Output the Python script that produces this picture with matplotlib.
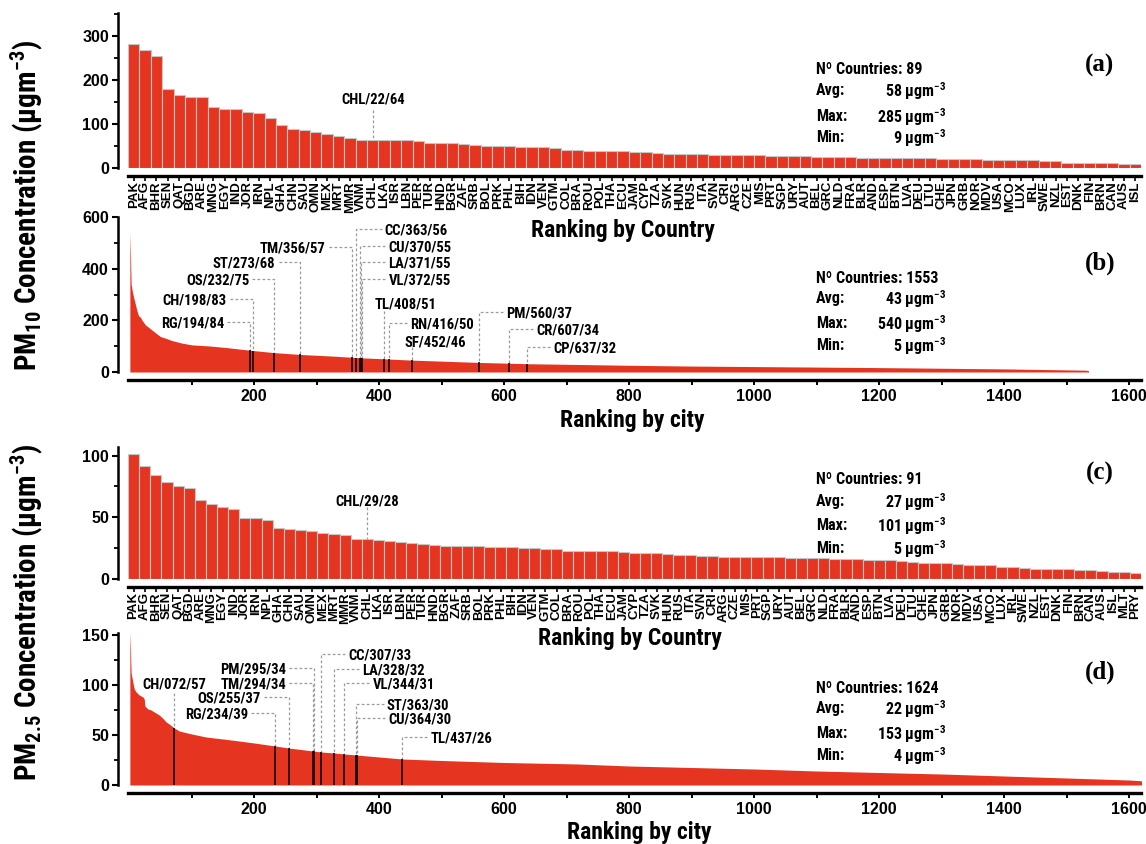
import numpy as np
import matplotlib
matplotlib.use('Agg')
import matplotlib.pyplot as plt
from matplotlib import font_manager as fm

# ---------------- data ----------------
pm10_codes = ['PAK','AFG','BHR','SEN','QAT','BGD','ARE','MNG','EGY','IND','JOR','IRN','NPL','GHA','CHN',
              'SAU','OMN','MEX','MRT','MMR','VNM','CHL','LKA','ISR','LBN','PER','TUR','HND','BGR','ZAF',
              'SRB','BOL','PRK','PHL','BIH','IDN','VEN','GTM','COL','BRA','ROU','POL','THA','ECU','JAM',
              'CYP','TZA','SVK','HUN','RUS','ITA','SVN','CRI','ARG','CZE','MIS','PRT','SGP','URY','AUT',
              'BEL','GRC','NLD','FRA','BLR','AND','ESP','BTN','LVA','DEU','LTU','CHE','JPN','GRB','NOR',
              'MDV','USA','MCO','LUX','IRL','SWE','NZL','EST','DNK','FIN','BRN','CAN','AUS','ISL']
pm10_country = [282, 268, 254, 179, 165, 162, 161, 138, 135, 133, 127, 126, 113, 97, 89,
                86, 82, 78, 72, 68, 64, 64, 63, 63, 63, 61, 57, 57, 57, 54,
                52, 51, 51, 50, 48, 48, 48, 45, 42, 41, 38.5, 38.5, 38.5, 38, 36,
                35.5, 34, 32.5, 32.5, 31.7, 31.7, 30.2, 29.5, 29.5, 29.5, 29.5, 27.2, 27.2, 27.2, 27.2,
                25.7, 24.9, 24.9, 24.9, 23.4, 23.4, 23.4, 22.7, 21.9, 21.9, 21.9, 20.4, 20.4, 20.4, 19.6,
                18.9, 18.9, 18.9, 17.4, 17.4, 15.9, 15.1, 12.1, 12.1, 12.1, 11.3, 11.3, 9, 9]

pm25_codes = pm10_codes + ['MLT', 'PRY']
pm25_country = [101, 92, 84, 79, 75, 74, 64, 60.5, 58.5, 56.8, 49.5, 49.2, 48, 41, 40.8,
                39.7, 38.6, 37.6, 36.2, 35.4, 32.4, 32.4, 31.9, 30.5, 29.7, 29.5, 28.1, 27.8, 27, 27,
                26.5, 26.5, 26, 26, 26, 25.1, 24.9, 24, 24, 23, 22.7, 22.7, 22.7, 22.7, 21.7,
                21.4, 20.8, 20.8, 20, 19.5, 19.2, 18.9, 18.4, 18.1, 18.1, 18.1, 17.8, 17.8, 17.6, 17,
                17, 16.8, 16.8, 16.5, 16.5, 16.2, 15.4, 15.4, 15.1, 14.6, 14.1, 13.2, 13, 12.7, 11.9,
                11.6, 11.6, 11.1, 10, 9.7, 8.6, 8.4, 8.4, 8.4, 8.1, 7.3, 7.3, 6.8, 5.7, 5.4, 4.6]

# city rankings
pm10_city_rank = [1, 2, 3, 5, 7, 10, 12, 15, 18, 20, 26, 31, 36, 44, 50, 58, 68, 84, 100, 127, 154,
                  194, 198, 232, 273, 330, 356, 363, 370, 408, 416, 452, 500, 560, 607, 637, 722,
                  800, 900, 1000, 1100, 1200, 1300, 1400, 1480, 1531, 1535]
pm10_city_val = [540, 450, 340, 311, 289, 260, 240, 217, 212, 202, 182, 173, 163, 148, 137, 131, 122,
                 112, 105, 101, 95, 84, 83, 75, 68, 61, 57, 56, 55, 51, 50, 46, 42, 37, 34, 32, 29,
                 26, 23, 21, 19, 17, 14.5, 12, 9, 7, 5]

pm25_city_rank = [1, 2, 3, 6, 8, 11, 16, 22, 24, 25, 30, 35, 40, 48, 54, 59, 64, 72, 80, 100, 123,
                  150, 176, 200, 234, 255, 294, 307, 328, 344, 363, 437, 500, 600, 719, 800, 900,
                  1000, 1100, 1200, 1300, 1400, 1500, 1600, 1624]
pm25_city_val = [153, 135, 112, 102, 96, 93, 90, 88, 86, 79, 76, 75, 73, 70, 66.5, 63, 61, 57, 54,
                 51, 48, 46, 44, 42, 39, 37, 34, 33, 32, 31, 30, 26, 24.5, 22.5, 21, 19, 17.5,
                 16, 14, 12.5, 11, 9, 7, 5, 4]

pm10_cities = ['RG', 'CH', 'OS', 'ST', 'TM', 'CC', 'CU', 'LA', 'VL', 'TL', 'RN', 'SF', 'PM', 'CR', 'CP']
pm10_cities_rank = [194, 198, 232, 273, 356, 363, 370, 371, 372, 408, 416, 452, 560, 607, 637]
pm10_cities_val = [84, 83, 75, 68, 57, 56, 55, 55, 55, 51, 50, 46, 37, 34, 32]

pm25_cities = ['CH', 'RG', 'OS', 'TM', 'PM', 'CC', 'LA', 'VL', 'ST', 'CU', 'TL']
pm25_cities_rank = [72, 234, 255, 294, 295, 307, 328, 344, 363, 364, 437]
pm25_cities_val = [57, 39, 37, 34, 34, 33, 32, 31, 30, 30, 26]

# stats: count, avg, max, min
stats_a = [89, 58, 285, 9]
stats_b = [1553, 43, 540, 5]
stats_c = [91, 27, 101, 5]
stats_d = [1624, 22, 153, 4]


# ---------------- font choice (condensed bold if available) ----------------
def _w(e):
    w = e.weight
    if isinstance(w, str):
        w = fm.weight_dict.get(w, 400)
    return w


def pick_narrow():
    entries = fm.fontManager.ttflist
    for nm in ['Liberation Sans Narrow', 'Roboto Condensed', 'Open Sans Condensed',
               'Noto Sans Condensed', 'DejaVu Sans Condensed']:
        es = [e for e in entries if e.name == nm]
        if es:
            b = [e for e in es if _w(e) >= 600] or es
            return nm, b[0].stretch
    cond = ('condensed', 'semi-condensed', 'extra-condensed', 'ultra-condensed')
    for nm in ['Roboto', 'Noto Sans', 'DejaVu Sans', 'Open Sans', 'Lato', 'Inter', 'Liberation Sans']:
        es = [e for e in entries if e.name == nm and e.stretch in cond]
        if es:
            b = [e for e in es if _w(e) >= 600] or es
            return nm, b[0].stretch
    return 'Liberation Sans', 'normal'


NARROW_NAME, NARROW_STRETCH = pick_narrow()

# ---------------- styling ----------------
W, H = 1146, 844
RED = '#E5341F'
NARROW = [NARROW_NAME, 'DejaVu Sans']
SANS = ['Liberation Sans', 'DejaVu Sans']
plt.rcParams['font.family'] = NARROW
plt.rcParams['font.weight'] = 'bold'
plt.rcParams['font.stretch'] = NARROW_STRETCH
plt.rcParams['mathtext.fontset'] = 'custom'
_mp = fm.FontProperties(family=NARROW_NAME, weight='bold', stretch=NARROW_STRETCH).get_fontconfig_pattern()
plt.rcParams['mathtext.rm'] = _mp
plt.rcParams['mathtext.bf'] = _mp
plt.rcParams['mathtext.default'] = 'rm'

fig = plt.figure(figsize=(W / 100, H / 100), dpi=100)


def px_axes(left, top, right, bottom):
    return fig.add_axes([left / W, 1 - bottom / H, (right - left) / W, (bottom - top) / H])


def style_axes(ax, ymax, major, minor):
    ax.set_ylim(0, ymax)
    for s in ('top', 'right'):
        ax.spines[s].set_visible(False)
    ax.spines['left'].set_position(('outward', 7.2))
    ax.spines['bottom'].set_position(('outward', 5.4))
    ax.spines['left'].set_linewidth(1.8)
    ax.spines['bottom'].set_linewidth(2.4)
    ax.set_yticks(major)
    ax.set_yticks(minor, minor=True)
    ax.tick_params(axis='y', which='major', direction='out', length=4.5, width=1.5,
                   labelsize=11.5, labelfontfamily='Liberation Sans', pad=2)
    ax.tick_params(axis='y', which='minor', direction='out', length=3, width=1.3)
    for lbl in ax.get_yticklabels():
        lbl.set_fontweight('bold')
        lbl.set_fontstretch('normal')
    ax.set_facecolor('none')


DASH = dict(color='#9a9a9a', lw=0.9, linestyle=(0, (2.2, 1.8)))
ANN_FS = 10.5


def country_panel(ax, codes, vals, ymax, major, minor, ann_i, ann_text, ann_y, dash_top):
    x = np.arange(len(codes))
    ax.bar(x, vals, width=1.0, color=RED, edgecolor='#c6c6c6', linewidth=0.8)
    ax.set_xlim(-0.5, len(codes) - 0.5)
    style_axes(ax, ymax, major, minor)
    ax.set_xticks(x)
    ax.set_xticklabels(codes, rotation=90, fontsize=9.5, family=SANS, weight='heavy', stretch='normal')
    ax.tick_params(axis='x', direction='out', length=3.5, width=1.2, pad=0.5)
    ax.plot([ann_i, ann_i], [dash_top, vals[ann_i]], **DASH)
    ax.text(ann_i, ann_y, ann_text, ha='center', va='center', fontsize=ANN_FS)


def city_panel(ax, ranks, vals, ymax, major, minor, names, cr, cv, layout, pad3=False):
    ax.fill_between(ranks, vals, 0, color=RED, lw=0)
    ax.set_xlim(-2, 1619)
    style_axes(ax, ymax, major, minor)
    ax.set_xticks(range(200, 1601, 200))
    ax.set_xticks(range(100, 1600, 200), minor=True)
    ax.tick_params(axis='x', which='both', direction='out', length=3.8, width=1.4,
                   labelsize=11.5, labelfontfamily='Liberation Sans', pad=3)
    for lbl in ax.get_xticklabels():
        lbl.set_fontweight('bold')
        lbl.set_fontstretch('normal')
    ax.vlines(cr, 0, cv, color='black', lw=1.1, zorder=3)
    gap = 5
    for name, r, v, (side, tx, ty, top) in zip(names, cr, cv, layout):
        rtxt = f'{r:03d}' if pad3 else f'{r}'
        label = f'{name}/{rtxt}/{v}'
        if side == 'L':
            ax.text(tx, ty, label, ha='right', va='center_baseline', fontsize=ANN_FS)
            ax.plot([tx + gap, r, r], [ty, ty, v], **DASH)
        elif side == 'R':
            ax.text(tx, ty, label, ha='left', va='center_baseline', fontsize=ANN_FS)
            ax.plot([tx - gap, r, r], [ty, ty, v], **DASH)
        elif side == 'C':
            ax.text(tx, ty, label, ha='center', va='center_baseline', fontsize=ANN_FS)
            ax.plot([r, r], [top, v], **DASH)
        else:  # 'T' text above, left aligned
            ax.text(tx, ty, label, ha='left', va='center_baseline', fontsize=ANN_FS)
            ax.plot([r, r], [top, v], **DASH)


def stats_block(st, ys, letter, ly):
    x0, x1 = 816 / W, 946 / W
    fs = 11.5
    fig.text(x0, 1 - ys[0] / H, f'Nº Countries: {st[0]}', ha='left', va='center_baseline', fontsize=fs)
    for lab, val, y in zip(['Avg:', 'Max:', 'Min:'], st[1:], ys[1:]):
        fig.text(x0, 1 - y / H, lab, ha='left', va='center_baseline', fontsize=fs)
        fig.text(x1, 1 - y / H, f'{val} µgm$^{{-3}}$', ha='right', va='center_baseline', fontsize=fs)
    fig.text(1100 / W, 1 - ly / H, letter, ha='center', va='center', fontsize=18,
             family='Liberation Serif', weight='bold', stretch='normal')


# ---------------- panel (a) ----------------
ax_a = px_axes(128, 13, 1141, 168)
country_panel(ax_a, pm10_codes, pm10_country, 352, [0, 100, 200, 300], [50, 150, 250, 350],
              21, 'CHL/22/64', 156, 132)
stats_block(stats_a, [68, 89, 115, 136], '(a)', 65)
fig.text(623 / W, 1 - 231 / H, 'Ranking by Country', ha='center', va='center', fontsize=17)

# ---------------- panel (b) ----------------
ax_b = px_axes(128, 217, 1141, 372)
layout_b = [('L', 152, 195, 0), ('L', 156, 281, 0), ('L', 192, 360, 0), ('L', 234, 424, 0),
            ('L', 314, 484, 0), ('R', 409, 552, 0), ('R', 415, 487, 0), ('R', 415, 427, 0),
            ('R', 415, 360, 0), ('T', 393, 269, 238), ('R', 450, 188, 0), ('T', 441, 119, 95),
            ('R', 603, 234, 0), ('R', 651, 165, 0), ('R', 679, 97, 0)]
city_panel(ax_b, pm10_city_rank, pm10_city_val, 600, [0, 200, 400, 600], [100, 300, 500],
           pm10_cities, pm10_cities_rank, pm10_cities_val, layout_b)
stats_block(stats_b, [277, 297, 322, 344], '(b)', 263)
fig.text(632 / W, 1 - 421 / H, 'Ranking by city', ha='center', va='center', fontsize=17)

# ---------------- panel (c) ----------------
ax_c = px_axes(128, 447, 1141, 579)
country_panel(ax_c, pm25_codes, pm25_country, 107, [0, 50, 100], [25, 75],
              21, 'CHL/29/28', 63, 58)
stats_block(stats_c, [478, 500, 524, 547], '(c)', 473)
fig.text(630 / W, 1 - 638 / H, 'Ranking by Country', ha='center', va='center', fontsize=17)

# ---------------- panel (d) ----------------
ax_d = px_axes(128, 633, 1141, 785)
layout_d = [('C', 72, 101.6, 92), ('L', 190, 72, 0), ('L', 211, 87.7, 0), ('L', 251, 102, 0),
            ('L', 251, 117.5, 0), ('R', 351, 131, 0), ('R', 372, 116, 0), ('R', 389, 101.6, 0),
            ('R', 412, 81, 0), ('R', 414, 67, 0), ('R', 482, 48, 0)]
city_panel(ax_d, pm25_city_rank, pm25_city_val, 152, [0, 50, 100, 150], [25, 75, 125],
           pm25_cities, pm25_cities_rank, pm25_cities_val, layout_d, pad3=True)
stats_block(stats_d, [687, 707, 732, 754], '(d)', 672)
fig.text(639 / W, 1 - 833 / H, 'Ranking by city', ha='center', va='center', fontsize=17)

# ---------------- y labels ----------------
fig.text(27 / W, 1 - 205 / H, r'PM$_{10}$ Concentration (µgm$^{-3}$)', rotation=90,
         ha='center', va='center', fontsize=21)
fig.text(27 / W, 1 - 612 / H, r'PM$_{2.5}$ Concentration (µgm$^{-3}$)', rotation=90,
         ha='center', va='center', fontsize=21)

fig.savefig('out.png', dpi=100)
